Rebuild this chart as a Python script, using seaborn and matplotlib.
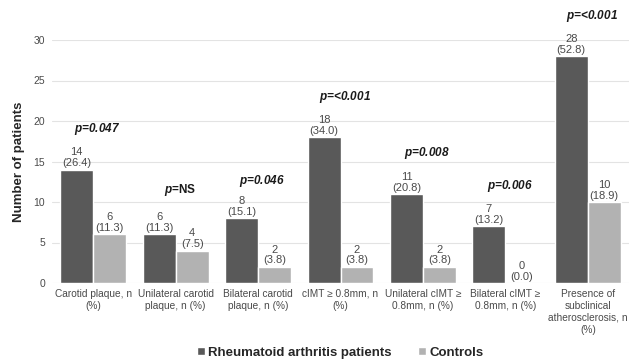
import matplotlib
matplotlib.use("Agg")
import matplotlib.pyplot as plt
import seaborn as sns
import pandas as pd

# ── Data ─────────────────────────────────────────────────────────────────────
CATEGORIES = [
    "Carotid plaque, n\n(%)",
    "Unilateral carotid\nplaque, n (%)",
    "Bilateral carotid\nplaque, n (%)",
    "cIMT \u2265 0.8mm, n\n(%)",
    "Unilateral cIMT \u2265\n0.8mm, n (%)",
    "Bilateral cIMT \u2265\n0.8mm, n (%)",
    "Presence of\nsubclinical\natherosclerosis, n\n(%)",
]
RA_COUNTS = [14, 6, 8, 18, 11, 7, 28]
RA_PCT = ["26.4", "11.3", "15.1", "34.0", "20.8", "13.2", "52.8"]
CTRL_COUNTS = [6, 4, 2, 2, 2, 0, 10]
CTRL_PCT = ["11.3", "7.5", "3.8", "3.8", "3.8", "0.0", "18.9"]
P_VALUES = [r"$\bfit{p}$=0.047", r"$\bfit{p}$=NS", r"$\bfit{p}$=0.046", r"$\bfit{p}$=<0.001",
            r"$\bfit{p}$=0.008", r"$\bfit{p}$=0.006", r"$\bfit{p}$=<0.001"]
P_ITALIC = [True, False, True, True, True, True, True]
P_HEIGHTS = [19.0, 11.5, 12.6, 23.0, 16.1, 12.0, 33.0]
GROUPS = ["Rheumatoid arthritis patients", "Controls"]

sns.set_style("white")
plt.rcParams["font.family"] = ["Liberation Sans", "DejaVu Sans"]
plt.rcParams["mathtext.fontset"] = "custom"
plt.rcParams["mathtext.bfit"] = "Liberation Sans:bold:italic"

df = pd.DataFrame({
    "category": CATEGORIES * 2,
    "group": [GROUPS[0]] * len(CATEGORIES) + [GROUPS[1]] * len(CATEGORIES),
    "count": RA_COUNTS + CTRL_COUNTS,
})

fig = plt.figure(figsize=(6.32, 3.6), dpi=100)
ax = fig.add_axes([52 / 632, 1 - 283 / 360, 577 / 632, 243 / 360])

sns.barplot(
    data=df, x="category", y="count", hue="group",
    palette=["#595959", "#b2b2b2"], width=0.8,
    edgecolor="white", linewidth=1.0, ax=ax, legend=True,
)

ax.set_ylim(0, 30)
ax.set_yticks(range(0, 31, 5))
ax.yaxis.grid(True, color="#e3e3e3", linewidth=0.8)
ax.set_axisbelow(True)
sns.despine(ax=ax, left=True, bottom=True)
ax.tick_params(axis="both", length=0, colors="#4a4a4a")
ax.tick_params(axis="y", pad=5, labelsize=7.5)
ax.tick_params(axis="x", pad=4, labelsize=7.3)
for lbl in ax.get_xticklabels():
    lbl.set_linespacing(1.25)
ax.set_xlabel("")
ax.set_ylabel("Number of patients", fontsize=9.5, fontweight="bold", labelpad=6)

# value labels above bars
for cont, counts, pcts in zip(ax.containers, [RA_COUNTS, CTRL_COUNTS], [RA_PCT, CTRL_PCT]):
    labels = [f"{n}\n({p})" for n, p in zip(counts, pcts)]
    ax.bar_label(cont, labels=labels, padding=1, fontsize=8,
                 color="#4a4a4a", linespacing=1.1)

# p-values roughly centred on each group
for i, (txt, it, h) in enumerate(zip(P_VALUES, P_ITALIC, P_HEIGHTS)):
    ax.text(i + 0.05, h, txt, ha="center", va="center", fontsize=8.5,
            fontweight="bold", fontstyle="italic" if it else "normal",
            color="#1a1a1a", clip_on=False)

ax.legend(loc="center", bbox_to_anchor=(0.5, -0.287),
          ncol=2, frameon=False, handlelength=0.55, handleheight=0.55,
          handletextpad=0.3, columnspacing=2.0,
          prop={"weight": "bold", "size": 9.5})

fig.savefig("out.png", dpi=100)
